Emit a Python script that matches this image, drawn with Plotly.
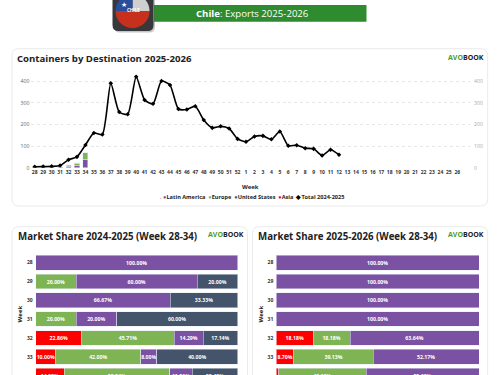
import numpy as np
import plotly.graph_objects as go

# ---- data ----
weeks = [str(w) for w in range(28, 53)] + [str(w) for w in range(1, 27)]
total_2425 = [4, 5, 6, 10, 37, 50, 105, 160, 153, 390, 257, 247, 420, 313, 295, 400, 382, 271, 269, 284,
              220, 184, 191, 181, 133, 120, 144, 147, 131, 167, 101, 104, 90, 87, 56, 83, 60]
latin_america = [1, 1, 2, 3, 7, 12, 39]
europe = [None, None, None, None, 2, 9, 30]
asia = [None, None, None, None, 2, 2, 1]
share_weeks = ["28", "29", "30", "31", "32", "33", "34"]

left_asia = [None, None, None, None, 22.86, 10.00, 14.02]
left_europe = [None, 20.00, None, 20.00, 45.71, 42.00, 52.34]
left_latam = [100.00, 60.00, 66.67, 20.00, 14.29, 8.00, 11.21]
left_us = [None, 20.00, 33.33, 60.00, 17.14, 40.00, 22.43]

right_asia = [None, None, None, None, 18.18, 8.70, 1.14]
right_europe = [None, None, None, None, 18.18, 39.13, 43.18]
right_latam = [100.00, 100.00, 100.00, 100.00, 63.64, 52.17, 55.68]

PURPLE = "#7B52A3"
GREEN = "#7FB455"
NAVY = "#44546A"
RED = "#FF0000"
FONT = "Open Sans"


def px(x):
    return x / 500


def py(y):
    return 1 - y / 375


def rounded(x0, y0, x1, y1, r):
    a, b, c, d = px(x0), py(y0), px(x1), py(y1)
    rx, ry = r / 500, r / 375
    return (f"M{a+rx},{b} L{c-rx},{b} Q{c},{b} {c},{b-ry} L{c},{d+ry} Q{c},{d} {c-rx},{d} "
            f"L{a+rx},{d} Q{a},{d} {a},{d+ry} L{a},{b-ry} Q{a},{b} {a+rx},{b} Z")


def arc(cx, cy, r, t0, t1, close_center=False):
    ts = np.radians(np.linspace(t0, t1, 40))
    pts = [(px(cx + r * np.cos(t)), py(cy - r * np.sin(t))) for t in ts]
    s = "M" + " L".join(f"{a:.5f},{b:.5f}" for a, b in pts)
    if close_center:
        s += f" L{px(cx):.5f},{py(cy):.5f}"
    return s + " Z"


def deco(path, fill, line="rgba(0,0,0,0)", width=1):
    return dict(type="path", xref="paper", yref="paper", path=path, fillcolor=fill,
                line=dict(color=line, width=width), layer="below")


def note(x, y, text, size, color="#222", anchor="left", **kw):
    return dict(xref="paper", yref="paper", x=px(x), y=py(y), text=text, showarrow=False,
                xanchor=anchor, yanchor="middle", font=dict(family=FONT, size=size, color=color), **kw)


def labels(vals):
    return [f"{v:.2f}%" if v is not None and v >= 2 else "" for v in vals]


fig = go.Figure()

# top stacked bars + total line
for name, vals, col in [("Latin America", latin_america, PURPLE), ("Europe", europe, GREEN), ("Asia", asia, RED)]:
    fig.add_bar(x=weeks[:7], y=vals, name=name, marker_color=col, showlegend=False, width=0.6,
                xaxis="x", yaxis="y")
fig.add_scatter(x=weeks[:len(total_2425)], y=total_2425, name="Total 2024-2025", mode="lines+markers",
                line=dict(color="#000", width=1.6, shape="spline", smoothing=0.6),
                marker=dict(symbol="diamond", size=3.5, color="#000"), showlegend=False, xaxis="x", yaxis="y2")


def share(xa, ya, series):
    for name, vals, col in series:
        fig.add_bar(y=share_weeks, x=vals, name=name, orientation="h", marker_color=col, showlegend=False,
                    text=labels(vals), textposition="inside", insidetextanchor="middle", textangle=0,
                    constraintext="none", cliponaxis=True,
                    textfont=dict(family=FONT, size=5.2, color="#fff", weight="bold"),
                    xaxis=xa, yaxis=ya)


share("x3", "y3", [("Asia", left_asia, RED), ("Europe", left_europe, GREEN),
                   ("Latin America", left_latam, PURPLE), ("United States", left_us, NAVY)])
share("x4", "y4", [("Asia", right_asia, RED), ("Europe", right_europe, GREEN),
                   ("Latin America", right_latam, PURPLE)])

tick = dict(family=FONT, size=5, color="#333", weight="bold")
grid = dict(showgrid=True, gridcolor="#e6e6e6", griddash="dot", gridwidth=0.7, zeroline=False, showline=False)

layout_axes = dict(
    xaxis=dict(domain=[px(30.5), px(470)], type="category", categoryorder="array", categoryarray=weeks,
               range=[-0.5, 51.5], tickmode="array", tickvals=weeks, ticktext=weeks, tickfont=tick, showgrid=False,
               tickangle=0, ticklen=0, automargin=False,
               title=dict(text="Week", font=dict(family=FONT, size=6, color="#222", weight="bold"), standoff=11),
               anchor="y", zeroline=False),
    yaxis=dict(domain=[py(167.7), py(72.4)], range=[0, 440], tickvals=[0, 100, 200, 300, 400], automargin=False,
               tickfont=dict(family=FONT, size=5.2, color="#666"), ticklen=0, anchor="x", **grid),
    yaxis2=dict(domain=[py(167.7), py(72.4)], range=[0, 440], tickvals=[0, 100, 200, 300, 400], overlaying="y",
                side="right", showgrid=False, zeroline=False, tickfont=dict(family=FONT, size=5.2, color="#aaa"),
                ticklen=0, anchor="x", automargin=False, ticklabelstandoff=3),
)
for n, (x0, x1) in {3: (35.7, 237.7), 4: (276.3, 479)}.items():
    layout_axes[f"xaxis{n}"] = dict(domain=[px(x0), px(x1)], range=[0, 100], visible=False, anchor=f"y{n}",
                                    automargin=False)
    layout_axes[f"yaxis{n}"] = dict(domain=[0, py(253.3)], type="category", categoryorder="array",
                                    categoryarray=share_weeks, range=[5.97, -0.5], tickfont=tick, ticklen=0,
                                    showgrid=False, zeroline=False, anchor=f"x{n}", automargin=False,
                                    ticklabelstandoff=2,
                                    title=dict(text="Week", font=dict(family=FONT, size=6, color="#222", weight="bold"),
                                               standoff=3))

# decoration: cards, banner, flag icon
shapes = [
    deco(rounded(12, 48.7, 487.7, 206, 7), "#fff", "#e4e4e4", 0.8),
    deco(rounded(12, 226.7, 247.5, 400, 7), "#fff", "#e4e4e4", 0.8),
    deco(rounded(252.5, 226.7, 487.7, 400, 7), "#fff", "#e4e4e4", 0.8),
    deco(rounded(154, 5, 366.5, 21.7, 0.1), "#2E8B2E"),
    deco(rounded(114, -10, 155, 32.5, 6), "rgba(90,90,90,0.35)"),
    deco(rounded(112.5, -10, 153.5, 31, 6), "#37373C"),
    deco(arc(132.5, 11, 17, 180, 360), "#C8301E"),
    deco(arc(132.5, 11, 17, 0, 90, True), "#CFCFCF"),
    deco(arc(132.5, 11, 17, 90, 180, True), "#2A4E9B"),
]

logo = '<b><span style="color:#4E9A2F">AVO</span><span style="color:#222">BOOK</span></b>'
legend_text = ('<b><span style="color:#999">. </span>'
               f'<span style="color:{PURPLE}">●</span>Latin America  '
               f'<span style="color:{GREEN}">●</span>Europe  '
               f'<span style="color:{NAVY}">●</span>United States  '
               f'<span style="color:{RED}">●</span>Asia  '
               '<span style="color:#000">◆</span>Total 2024-2025</b>')
annotations = [
    note(14.5, 58, "<b>Containers by Destination 2025-2026</b>", 9.6),
    note(15.5, 236.5, "<b>Market Share 2024-2025 (Week 28-34)</b>", 9.7),
    note(255.5, 236.5, "<b>Market Share 2025-2026 (Week 28-34)</b>", 9.7),
    note(446, 57.5, logo, 7),
    note(205.5, 234.5, logo, 7),
    note(446, 234.5, logo, 7),
    note(252, 197.5, legend_text, 5.6, anchor="center"),
    note(252.5, 13.5, "<b>Chile</b>: Exports 2025-2026", 9.6, color="#fff", anchor="center"),
    note(124, 5, "★", 7, color="#fff", anchor="center"),
    note(133, 10, "<b>CHILE</b>", 4.5, color="#fff", anchor="center"),
]

fig.update_layout(width=500, height=375, margin=dict(l=0, r=0, t=0, b=0), autosize=False,
                  paper_bgcolor="#fff", plot_bgcolor="rgba(0,0,0,0)", barmode="stack", bargap=0.22,
                  showlegend=False, font=dict(family=FONT), shapes=shapes, annotations=annotations, **layout_axes)
fig.write_html("out.html", config=dict(displayModeBar=False),
               post_script="document.body.style.margin='0';document.documentElement.style.overflow='hidden';")
